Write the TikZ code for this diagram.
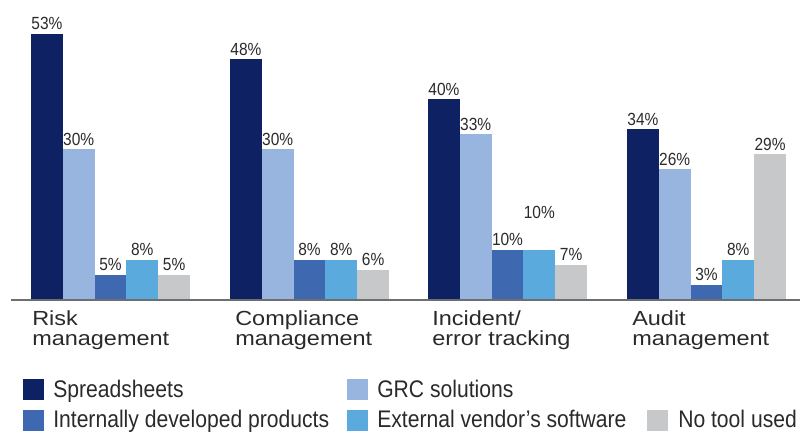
\documentclass[tikz,border=0pt]{standalone}
\usepackage{fontspec}
\setmainfont{Liberation Sans}
\newfontfamily\valuefont[FakeStretch=0.88]{Liberation Sans}
\newfontfamily\legendfont[FakeStretch=0.88]{Liberation Sans}
\newfontfamily\catfont[FakeStretch=1.15]{Liberation Sans}

\definecolor{cSpread}{HTML}{0E2163}
\definecolor{cGRC}{HTML}{97B5DE}
\definecolor{cInternal}{HTML}{3E69B1}
\definecolor{cVendor}{HTML}{5AAADD}
\definecolor{cNone}{HTML}{C7C8CA}
\definecolor{ink}{HTML}{2A2A2A}
\definecolor{axisgray}{HTML}{6D6E71}

\begin{document}
\begin{tikzpicture}[x=0.75pt,y=-0.75pt,
  value/.style={font=\valuefont\fontsize{13.2pt}{15pt}\selectfont, text=ink, anchor=base, inner sep=0pt},
  cat/.style={font=\catfont\fontsize{15.3pt}{15pt}\selectfont, text=ink, anchor=north west, align=left, inner sep=0pt},
  legtext/.style={font=\legendfont\fontsize{18pt}{18pt}\selectfont, text=ink, anchor=base west, inner sep=0pt},
  legkey/.style={minimum size=15.75pt, inner sep=0pt, anchor=north west}]
\useasboundingbox (0,0) rectangle (800,434);

% bars: group left edge / five values / extra lift of the fourth label
\foreach \gx/\a/\b/\c/\d/\e/\lift [count=\g] in
  {31/53/30/5/8/5/0, 230/48/30/8/8/6/0, 428/40/33/10/10/7/27, 627/34/26/3/8/29/0} {
  \foreach \v/\col/\up [count=\i from 0] in
    {\a/cSpread/0, \b/cGRC/0, \c/cInternal/0, \d/cVendor/\lift, \e/cNone/0} {
    \fill[\col] ({\gx+\i*31.8},300) rectangle ({\gx+\i*31.8+31.8},{300-5.02*\v});
    \node[value] (v\g\i) at ({\gx+\i*31.8+15.9},{296-5.02*\v-\up}) {\v\%};
  }
}

% baseline
\draw[axisgray, line width=1.5pt] (11,300) -- (800,300);

% category labels
\node[cat] (catRisk)  at (32,310)  {Risk\\management};
\node[cat] (catComp)  at (235,310) {Compliance\\management};
\node[cat] (catInc)   at (432,310) {Incident/\\error tracking};
\node[cat] (catAudit) at (632,310) {Audit\\management};

% legend
\node[legkey, fill=cSpread]   (kSpread)   at (23,379)  {};
\node[legtext] (tSpread)   at (53,398)  {Spreadsheets};
\node[legkey, fill=cGRC]      (kGRC)      at (347,379) {};
\node[legtext] (tGRC)      at (377,398) {GRC solutions};
\node[legkey, fill=cInternal] (kInternal) at (23,410)  {};
\node[legtext] (tInternal) at (53,428)  {Internally developed products};
\node[legkey, fill=cVendor]   (kVendor)   at (347,410) {};
\node[legtext] (tVendor)   at (377,428) {External vendor’s software};
\node[legkey, fill=cNone]     (kNone)     at (647,410) {};
\node[legtext] (tNone)     at (678,428) {No tool used};
\end{tikzpicture}
\end{document}
